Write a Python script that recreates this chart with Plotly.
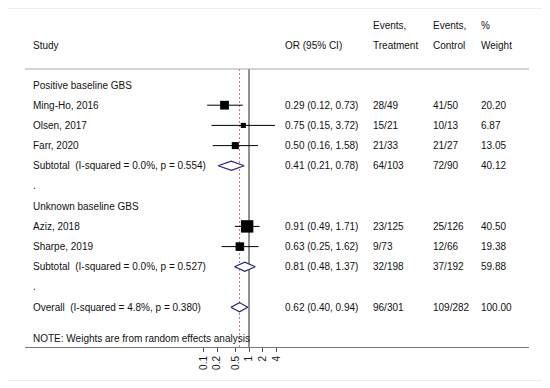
import math
import plotly.graph_objects as go

# ---------------- data ----------------
group_names = ["Positive baseline GBS", "Unknown baseline GBS"]
study_names = [["Ming-Ho, 2016", "Olsen, 2017", "Farr, 2020"],
               ["Aziz, 2018", "Sharpe, 2019"]]
study_or = [[0.29, 0.75, 0.50], [0.91, 0.63]]
study_lo = [[0.12, 0.15, 0.16], [0.49, 0.25]]
study_hi = [[0.73, 3.72, 1.58], [1.71, 1.62]]
study_ev_t = [["28/49", "15/21", "21/33"], ["23/125", "9/73"]]
study_ev_c = [["41/50", "10/13", "21/27"], ["25/126", "12/66"]]
study_wt = [[20.20, 6.87, 13.05], [40.50, 19.38]]

sub_labels = ["Subtotal  (I-squared = 0.0%, p = 0.554)",
              "Subtotal  (I-squared = 0.0%, p = 0.527)"]
sub_or = [0.41, 0.81]
sub_lo = [0.21, 0.48]
sub_hi = [0.78, 1.37]
sub_ev_t = ["64/103", "32/198"]
sub_ev_c = ["72/90", "37/192"]
sub_wt = [40.12, 59.88]

overall_label = "Overall  (I-squared = 4.8%, p = 0.380)"
overall_or, overall_lo, overall_hi = 0.62, 0.40, 0.94
overall_ev_t, overall_ev_c, overall_wt = "96/301", "109/282", 100.00

tick_vals = [0.1, 0.2, 0.5, 1, 2, 4]
tick_text = ["0.1", "0.2", "0.5", "1", "2", "4"]
note_text = "NOTE: Weights are from random effects analysis"

# ---------------- layout helpers (page pixel coordinates) ----------------
OFF = 8                   # default body margin of the page
W, H = 550 - OFF, 388 - OFF
PL, PR = 25, 529          # plot area left/right in page px
TOP = OFF                 # plot area top in page px
AXIS_Y = 347              # axis line y in page px
ONE_X = 249               # page px of OR = 1
DECADE = 45.5             # px per decade
HEADER_LINE_Y = 69
ROW0, ROWSTEP = 85, 20.2
FONT = "Liberation Sans, Arial, Helvetica, sans-serif"
TXT = "#111111"
NAVY = "#26267a"

col_study, col_or, col_t, col_c, col_w = 31, 283, 371, 431, 479


def px2paper(px):
    return (px - PL) / (PR - PL)


def py2paper(py):
    return (AXIS_Y - py) / (AXIS_Y - TOP)


def fmt_ci(e, l, h):
    return f"{e:.2f} ({l:.2f}, {h:.2f})"


annotations = []


def text(px, y, s):
    annotations.append(dict(x=px2paper(px), xref="paper", y=y, yref="y",
                            text=s, showarrow=False, xanchor="left",
                            yanchor="middle", font=dict(family=FONT, size=10, color=TXT)))


# header
text(col_study, 45, "Study")
text(col_or, 45, "OR (95% CI)")
text(col_t, 25, "Events,")
text(col_t, 45, "Treatment")
text(col_c, 25, "Events,")
text(col_c, 45, "Control")
text(col_w, 25, "%")
text(col_w, 45, "Weight")

# rows
sq_x, sq_y, sq_s = [], [], []
ci_x, ci_y = [], []
diamonds = []
row = 0
for g in range(len(group_names)):
    y = ROW0 + ROWSTEP * row
    text(col_study, y, group_names[g])
    row += 1
    for k in range(len(study_names[g])):
        y = ROW0 + ROWSTEP * row
        text(col_study, y, study_names[g][k])
        text(col_or, y, fmt_ci(study_or[g][k], study_lo[g][k], study_hi[g][k]))
        text(col_t, y, study_ev_t[g][k])
        text(col_c, y, study_ev_c[g][k])
        text(col_w, y, f"{study_wt[g][k]:.2f}")
        sq_x.append(study_or[g][k])
        sq_y.append(y)
        sq_s.append(1.95 * math.sqrt(study_wt[g][k]))
        ci_x += [study_lo[g][k], study_hi[g][k], None]
        ci_y += [y, y, None]
        row += 1
    y = ROW0 + ROWSTEP * row
    text(col_study, y, sub_labels[g])
    text(col_or, y, fmt_ci(sub_or[g], sub_lo[g], sub_hi[g]))
    text(col_t, y, sub_ev_t[g])
    text(col_c, y, sub_ev_c[g])
    text(col_w, y, f"{sub_wt[g]:.2f}")
    diamonds.append((sub_lo[g], sub_or[g], sub_hi[g], y))
    row += 1
    y = ROW0 + ROWSTEP * row
    text(col_study, y - 1, ".")
    row += 1

y = ROW0 + ROWSTEP * row
text(col_study, y, overall_label)
text(col_or, y, fmt_ci(overall_or, overall_lo, overall_hi))
text(col_t, y, overall_ev_t)
text(col_c, y, overall_ev_c)
text(col_w, y, f"{overall_wt:.2f}")
diamonds.append((overall_lo, overall_or, overall_hi, y))

text(col_study, 338, note_text)

fig = go.Figure()

# CI lines
fig.add_trace(go.Scatter(x=ci_x, y=ci_y, mode="lines",
                         line=dict(color="black", width=1), hoverinfo="skip"))
# squares
fig.add_trace(go.Scatter(x=sq_x, y=sq_y, mode="markers",
                         marker=dict(symbol="square", size=sq_s, color="black",
                                     opacity=1, line=dict(width=0))))
# diamonds
DH = 4.6
for lo, est, hi, y in diamonds:
    fig.add_trace(go.Scatter(x=[lo, est, hi, est, lo], y=[y, y - DH, y, y + DH, y],
                             mode="lines", fill="toself", fillcolor="white",
                             line=dict(color=NAVY, width=1.2), hoverinfo="skip"))

xmin = -(ONE_X - PL) / DECADE
xmax = (PR - ONE_X) / DECADE

shapes = [
    # header separator
    dict(type="line", xref="paper", yref="y", x0=0, x1=1, y0=HEADER_LINE_Y, y1=HEADER_LINE_Y,
         line=dict(color="#aaaaaa", width=1)),
    # overall estimate line
    dict(type="line", xref="x", yref="y", x0=overall_or, x1=overall_or, y0=HEADER_LINE_Y, y1=AXIS_Y,
         line=dict(color="#b87a95", width=1, dash="2px,2px"), layer="below"),
    # null line
    dict(type="line", xref="x", yref="y", x0=1, x1=1, y0=HEADER_LINE_Y, y1=AXIS_Y,
         line=dict(color="#222222", width=1), layer="below"),
    # faint frame
    dict(type="rect", xref="paper", yref="paper",
         x0=px2paper(7.5), x1=px2paper(543.5), y0=py2paper(380.5), y1=py2paper(8.5),
         line=dict(color="#ececec", width=1), layer="below"),
]

fig.update_layout(
    width=W, height=H,
    margin=dict(l=PL - OFF, r=(550 - OFF) - (PR - OFF), t=0, b=H - (AXIS_Y - TOP), pad=0),
    paper_bgcolor="white", plot_bgcolor="white",
    showlegend=False,
    annotations=annotations,
    shapes=shapes,
    xaxis=dict(type="log", range=[xmin, xmax], tickvals=tick_vals, ticktext=tick_text,
               tickangle=-90, ticks="outside", ticklen=4, tickcolor="#555555",
               showline=True, linecolor="#777777", linewidth=1,
               showgrid=False, zeroline=False,
               tickfont=dict(family=FONT, size=10, color=TXT)),
    yaxis=dict(range=[AXIS_Y, TOP], visible=False, showgrid=False, zeroline=False),
)

fig.write_html("out.html")
